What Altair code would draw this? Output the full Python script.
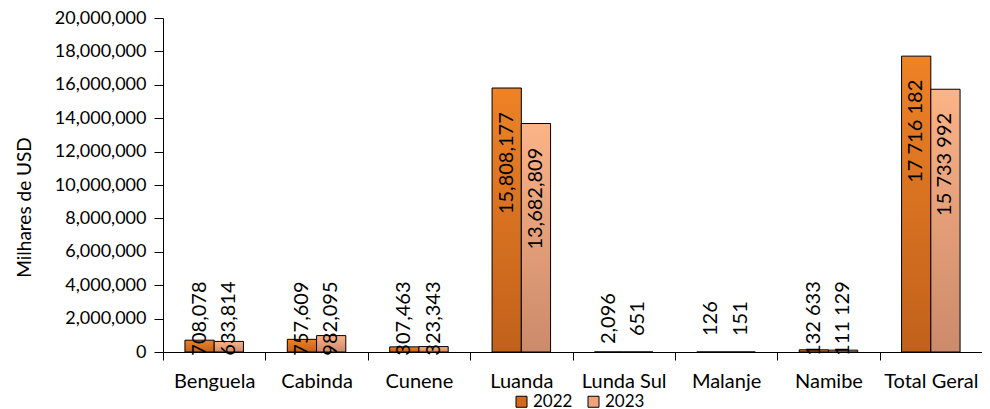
import altair as alt
import pandas as pd

categories = ["Benguela", "Cabinda", "Cunene", "Luanda", "Lunda Sul", "Malanje", "Namibe", "Total Geral"]
years = ["2022", "2023"]
values_2022 = [708078, 757609, 307463, 15808177, 2096, 126, 132633, 17716182]
values_2023 = [633814, 982095, 323343, 13682809, 651, 151, 111129, 15733992]
labels_2022 = ["708,078", "757,609", "307,463", "15,808,177", "2,096", "126", "132 633", "17 716 182"]
labels_2023 = ["633,814", "982,095", "323,343", "13,682,809", "651", "151", "111 129", "15 733 992"]
y_ticks = list(range(0, 20000001, 2000000))

rows = []
for c, v, l in zip(categories, values_2022, labels_2022):
    rows.append({"category": c, "year": "2022", "value": v, "label": l})
for c, v, l in zip(categories, values_2023, labels_2023):
    rows.append({"category": c, "year": "2023", "value": v, "label": l})
df = pd.DataFrame(rows)

FONT = "Lato"
FS = 20

grad_2022 = alt.Gradient(
    gradient="linear",
    stops=[alt.GradientStop(color="#EE8226", offset=0), alt.GradientStop(color="#C1611B", offset=1)],
    x1=0, x2=0, y1=0, y2=1,
)
grad_2023 = alt.Gradient(
    gradient="linear",
    stops=[alt.GradientStop(color="#FBB387", offset=0), alt.GradientStop(color="#CB8A6B", offset=1)],
    x1=0, x2=0, y1=0, y2=1,
)

x_enc = alt.X(
    "category:N",
    sort=categories,
    scale=alt.Scale(paddingInner=0, paddingOuter=0),
    axis=alt.Axis(
        title=None, tickBand="extent", labelAngle=0, labelFont=FONT, labelFontSize=FS,
        labelColor="black", domainColor="black", tickColor="black", tickSize=8,
        labelPadding=11,
    ),
)
xoff_enc = alt.XOffset("year:N", scale=alt.Scale(domain=years, paddingInner=0, paddingOuter=0.75))

y_axis = alt.Axis(
    values=y_ticks, format=",.0f", title="Milhares de  USD", grid=False, labelOverlap=False,
    labelFont=FONT, labelFontSize=18, labelColor="black", titleFont=FONT,
    titleFontSize=19, titleFontWeight="normal", titleColor="black",
    domainColor="black", tickColor="black", tickSize=9, labelPadding=8,
    titlePadding=20, titleY=189,
)
y_scale = alt.Scale(domain=[0, 20000000], nice=False)

base = alt.Chart(df)

bars_2022 = base.transform_filter(alt.datum.year == "2022").mark_bar(
    fill=grad_2022, stroke="black", strokeWidth=1
).encode(x=x_enc, xOffset=xoff_enc, y=alt.Y("value:Q", scale=y_scale, axis=y_axis))

bars_2023 = base.transform_filter(alt.datum.year == "2023").mark_bar(
    fill=grad_2023, stroke="black", strokeWidth=1
).encode(x=x_enc, xOffset=xoff_enc, y=alt.Y("value:Q", scale=y_scale, axis=y_axis))

texts = base.transform_calculate(
    labelpos="datum.value < 3000000 ? 2000000 : datum.value - 4500000"
).mark_text(
    angle=270, align="center", baseline="middle", font=FONT, fontSize=FS, color="black"
).encode(
    x=x_enc, xOffset=xoff_enc, y=alt.Y("labelpos:Q", scale=y_scale, axis=y_axis), text="label:N"
)

legend_layer = base.mark_square(opacity=0).encode(
    x=x_enc, xOffset=xoff_enc, y=alt.Y("value:Q", scale=y_scale, axis=y_axis),
    color=alt.Color(
        "year:N",
        scale=alt.Scale(domain=years, range=["#D46A1E", "#EFA27B"]),
        legend=alt.Legend(
            title=None, orient="none", direction="horizontal", legendX=350, legendY=375,
            padding=0, symbolType="square", symbolSize=121, symbolOpacity=1,
            symbolStrokeColor="black", symbolStrokeWidth=1, labelFont=FONT, labelFontSize=17,
            labelColor="black", labelOffset=3, columnPadding=12,
        ),
    ),
)

chart = alt.layer(bars_2022, bars_2023, texts, legend_layer).properties(
    width=819,
    height=334,
    padding={"left": 155, "top": 10, "right": 0, "bottom": 58},
    autosize=alt.AutoSizeParams(type="none"),
).configure_view(stroke=None)

chart.save("out.html", embed_options={"renderer": "svg", "actions": False})
